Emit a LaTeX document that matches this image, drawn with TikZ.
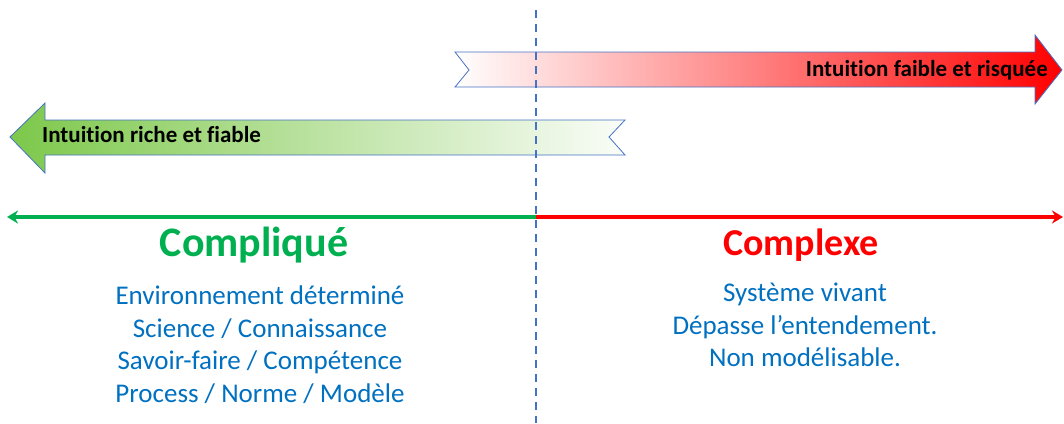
\documentclass[tikz,border=0pt]{standalone}
\usepackage{fontspec}
\setmainfont{Carlito}[RawFeature=-liga]
\usetikzlibrary{arrows.meta,calc}
\definecolor{edgeblue}{RGB}{68,114,196}
\definecolor{textblue}{RGB}{0,112,192}
\definecolor{cgreen}{RGB}{0,176,80}
\definecolor{cred}{RGB}{255,0,0}
\definecolor{leafgreen}{RGB}{125,200,75}
\tikzset{
  banner/.style={
    draw=edgeblue,
    line width=0.8pt,
    line join=miter
  },
  bannertext/.style={
    font=\bfseries\fontsize{23}{26}\selectfont,
    text=black,
    inner sep=0pt
  },
  title/.style={
    font=\bfseries\fontsize{42}{48}\selectfont,
    inner sep=0pt
  },
  items/.style={
    font=\fontsize{27}{32.5}\selectfont,
    text=textblue,
    align=center,
    inner sep=0pt,
    anchor=north
  },
  axis/.style={line width=3.5pt}
}

\begin{document}
\begin{tikzpicture}[x=1pt,y=-1pt]
  \useasboundingbox (0,0) rectangle (1064,423);
  % banners
  \shade[banner, left color=white, right color=cred]
    (455,52) -- (1035,52) -- (1035,35) -- (1062,70) -- (1035,104)
    -- (1035,87) -- (455,87) -- (469,70) -- cycle;
  \shade[banner, left color=leafgreen, right color=leafgreen!4]
    (625,120) -- (45,120) -- (45,103) -- (10,137) -- (45,173)
    -- (45,155) -- (625,155) -- (609,137) -- cycle;
  \node[bannertext, anchor=east] (weak) at (1048,70) {Intuition faible et risquée};
  \node[bannertext, anchor=west] (rich) at (42,135) {Intuition riche et fiable};
  % axis
  \coordinate (mid) at (536,217);
  \coordinate (left) at (7,217);
  \coordinate (right) at (1063,217);
  \draw[axis, cgreen, -{Stealth[length=11pt,width=13pt]}] (mid) -- (left);
  \draw[axis, cred, -{Stealth[length=11pt,width=13pt]}] (mid) -- (right);
  \draw[edgeblue, line width=1.6pt, dash pattern=on 8pt off 6pt] (536,10) -- (536,423);
  % titles
  \node[title, text=cgreen] (cplq) at (254,245) {Compliqué};
  \node[title, text=cred, font=\bfseries\fontsize{38}{44}\selectfont] (cplx) at (801,245) {Complexe};
  \node[items] (cplqlist) at (260,286) {Environnement déterminé\\Science / Connaissance\\
    Savoir-faire / Compétence\\Process / Norme / Modèle};
  \node[items] (cplxlist) at (805,283) {Système vivant\\Dépasse l’entendement.\\
    Non modélisable.};
\end{tikzpicture}
\end{document}
